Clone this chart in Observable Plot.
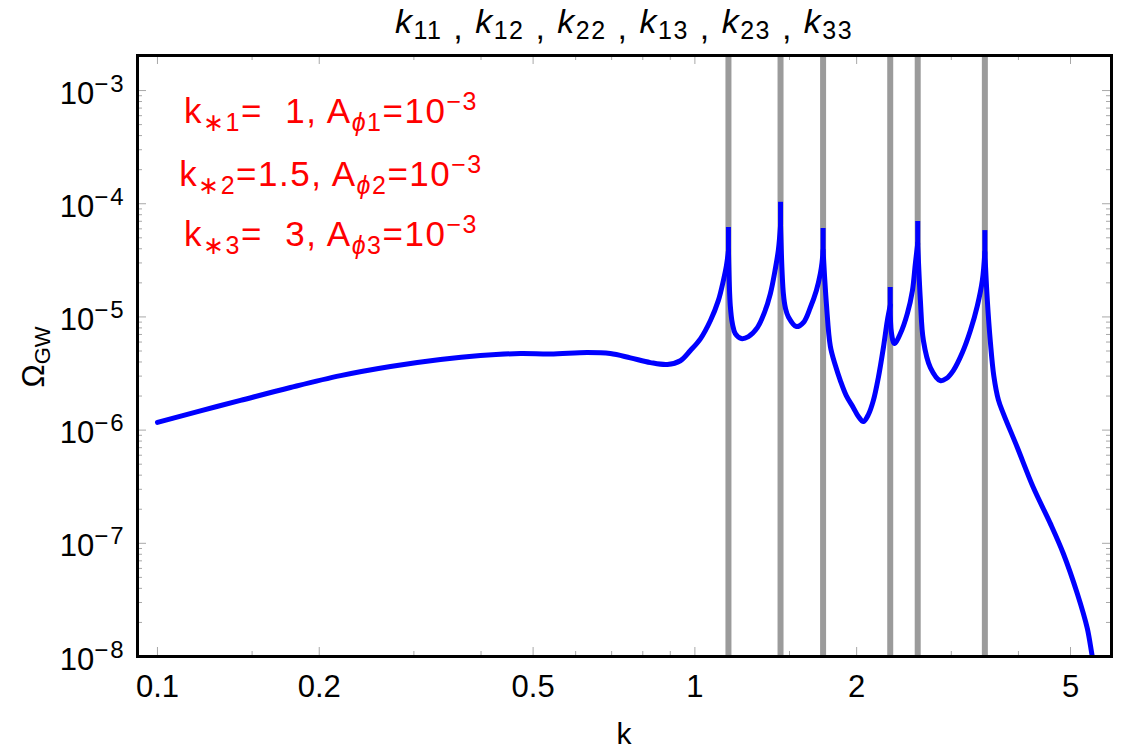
<!DOCTYPE html>
<html><head><meta charset="utf-8">
<script src="https://cdn.jsdelivr.net/npm/d3@7"></script>
<script src="https://cdn.jsdelivr.net/npm/@observablehq/plot@0.6"></script>
<style>
body{margin:0;background:#fff;}
#chart{width:1125px;height:755px;}
text{font-family:"Liberation Sans",Arial,sans-serif;}
</style>
</head><body><div id="chart"></div>
<script>
// ---- data ----
// smooth curve samples (values at resonances are the cusp base values)
const kValues = [0.1,0.1202,0.1427,0.1768,0.2191,0.2714,0.3362,0.399,0.4735,0.5385,0.631,0.696,0.7586,0.8266,0.889,0.9397,0.981,1.024,1.069,1.106,1.130,1.145,
 1.1547,1.164,1.175,1.189,1.220,1.258,1.307,1.347,1.382,1.412,1.430,
 1.4434,1.461,1.475,1.493,1.545,1.592,1.640,1.683,1.712,1.724,
 1.7321,1.757,1.787,1.826,1.865,1.913,1.972,2.015,2.058,2.103,2.148,2.195,2.243,2.281,
 2.3094,2.321,2.351,2.412,2.485,2.540,2.572,
 2.5981,2.628,2.662,2.743,2.862,2.937,3.026,3.146,3.256,3.355,3.427,
 3.4641,3.501,3.547,3.600,3.671,3.750,3.981,4.264,4.585,4.848,5.147,5.373,5.489,5.56];
const omegaValues = [1.17e-6,1.48e-6,1.83e-6,2.38e-6,3.03e-6,3.65e-6,4.21e-6,4.56e-6,4.75e-6,4.70e-6,4.85e-6,4.75e-6,4.35e-6,3.95e-6,3.80e-6,4.1e-6,5.05e-6,6.4e-6,9.29e-6,1.40e-5,2.10e-5,2.85e-5,
 3.86e-5,1.25e-5,8.6e-6,7.13e-6,6.44e-6,6.71e-6,8.05e-6,1.09e-5,1.61e-5,2.68e-5,3.9e-5,
 6.41e-5,1.61e-5,1.18e-5,1.0e-5,8.22e-6,8.93e-6,1.21e-5,1.71e-5,2.42e-5,3.0e-5,
 3.86e-5,1.30e-5,5.48e-6,3.72e-6,2.74e-6,2.02e-6,1.58e-6,1.32e-6,1.19e-6,1.37e-6,1.82e-6,2.92e-6,5.37e-6,9.29e-6,
 1.26e-5,7.3e-6,5.82e-6,7.13e-6,1.07e-5,1.71e-5,2.96e-5,
 4.45e-5,1.40e-5,6.19e-6,3.57e-6,2.74e-6,2.86e-6,3.36e-6,4.85e-6,7.59e-6,1.26e-5,2.10e-5,
 3.71e-5,1.40e-5,6.0e-6,3.0e-6,1.85e-6,1.40e-6,7.02e-7,3.11e-7,1.50e-7,8.13e-8,3.60e-8,1.77e-8,1.0e-8,7.5e-9];
const resonanceK = [1.1547, 1.4434, 1.7321, 2.3094, 2.5981, 3.4641];
const spikeBase = [3.86e-5, 6.41e-5, 3.86e-5, 1.26e-5, 4.45e-5, 3.71e-5];
const spikeTop = [6.17e-5, 1.03e-4, 6.04e-5, 1.82e-5, 6.97e-5, 5.79e-5];
const resonanceLabels = ["11","12","22","13","23","33"];
const xTickLabels = [0.1, 0.2, 0.5, 1, 2, 5];
const xMinorTicks = [0.15, 0.3, 0.4, 0.6, 0.7, 0.8, 0.9, 1.5, 3, 4];
const yMajorTicks = [1e-8, 1e-7, 1e-6, 1e-5, 1e-4, 1e-3];
const yMinorMultipliers = [2,3,4,5,6,7,8,9];
const starIndex = ["1","2","3"];
const kStarText = ["  1","1.5","  3"];
const ampExponent = ["\u22123","\u22123","\u22123"];

// ---- layout ----
const W = 1125, H = 755;
const mTop = 55, mRight = 14, mBottom = 99, mLeft = 137;
const innerW = W - mLeft - mRight, innerH = H - mTop - mBottom;
const xDomain = [0.0918, 5.96], yDomain = [1e-8, 2.04e-3];

// split curve into smooth pieces between resonances
const data = [];
let seg = 0;
kValues.forEach((k, i) => {
  data.push({k, omega: omegaValues[i], seg});
  if (resonanceK.includes(k)) { seg++; data.push({k, omega: omegaValues[i], seg}); }
});
const spikes = resonanceK.map((k, i) => ({k, lo: spikeBase[i], hi: spikeTop[i]}));
const yMinorTicks = [];
yMajorTicks.forEach(d => yMinorMultipliers.forEach(m => { if (m*d <= yDomain[1]) yMinorTicks.push(m*d); }));

const tickColor = "#a8a8a8";
const plot = Plot.plot({
  width: W, height: H,
  marginTop: mTop, marginRight: mRight, marginBottom: mBottom, marginLeft: mLeft,
  style: {fontFamily: "Liberation Sans, Arial, sans-serif", background: "white", color: "black"},
  x: {type: "log", domain: xDomain},
  y: {type: "log", domain: yDomain},
  marks: [
    Plot.ruleX(resonanceK, {stroke: "#9b9b9b", strokeWidth: 6}),
    Plot.tickX(xTickLabels, {stroke: tickColor, insetTop: innerH - 9}),
    Plot.tickX(xTickLabels, {stroke: tickColor, insetBottom: innerH - 9}),
    Plot.tickX(xMinorTicks, {stroke: tickColor, insetTop: innerH - 5}),
    Plot.tickX(xMinorTicks, {stroke: tickColor, insetBottom: innerH - 5}),
    Plot.tickY(yMajorTicks, {stroke: tickColor, insetRight: innerW - 9}),
    Plot.tickY(yMajorTicks, {stroke: tickColor, insetLeft: innerW - 9}),
    Plot.tickY(yMinorTicks, {stroke: tickColor, insetRight: innerW - 5}),
    Plot.tickY(yMinorTicks, {stroke: tickColor, insetLeft: innerW - 5}),
    Plot.line(data, {x: "k", y: "omega", z: "seg", curve: "catmull-rom", stroke: "#0000ff", strokeWidth: 5, strokeLinejoin: "round", clip: true}),
    Plot.ruleX(spikes, {x: "k", y1: "lo", y2: "hi", stroke: "#0000ff", strokeWidth: 5}),
    Plot.frame({stroke: "black", strokeWidth: 3}),
    Plot.axisX({ticks: xTickLabels, tickSize: 0, tickPadding: 18, fontSize: 31, tickFormat: d => String(d), label: null}),
    Plot.axisY({ticks: yMajorTicks, tickSize: 0, tickPadding: 12, fontSize: 31, tickFormat: d => String(Math.round(Math.log10(d))), label: null})
  ]
});
document.getElementById("chart").appendChild(plot);

const svg = d3.select(plot);
// y tick labels as 10^n
svg.selectAll('g[aria-label="y-axis tick label"] text').each(function() {
  const t = d3.select(this);
  const e = Math.abs(parseInt(t.text().replace("\u2212", "-"), 10));
  t.text(null).attr("y", "0.42em");
  t.append("tspan").text("10");
  t.append("tspan").attr("font-size", 24).attr("dy", -12).style("letter-spacing", "2px").text("\u2212" + e);
});

// title
const title = svg.append("text").attr("x", 624).attr("y", 33)
  .attr("text-anchor", "middle").attr("font-size", 34)
  .style("letter-spacing", "1.5px").style("white-space", "pre").attr("fill", "black");
resonanceLabels.forEach((lab, i) => {
  title.append("tspan").attr("font-style", "italic").attr("dy", i === 0 ? 0 : -6).text("k");
  title.append("tspan").attr("font-size", 25).attr("dy", 6).text(lab);
  if (i < resonanceLabels.length - 1) title.append("tspan").attr("dy", 0).text(" , ");
});

// annotation
const baselines = [123, 186, 246];
starIndex.forEach((idx, i) => {
  const t = svg.append("text").attr("x", 331).attr("y", baselines[i])
    .attr("text-anchor", "middle").attr("font-size", 35).attr("fill", "#ff0000")
    .style("letter-spacing", "1.5px").style("white-space", "pre");
  t.append("tspan").text("k");
  t.append("tspan").attr("font-size", 25).attr("dy", 8).text("\u2217" + idx);
  t.append("tspan").attr("dy", -8).text("=" + kStarText[i] + ", A");
  t.append("tspan").attr("font-size", 25).attr("dy", 8).attr("font-style", "italic").text("\u03D5");
  t.append("tspan").attr("font-size", 25).text(idx);
  t.append("tspan").attr("dy", -8).text("=10");
  t.append("tspan").attr("font-size", 25).attr("dy", -13).text(ampExponent[i]);
});

// axis labels
svg.append("text").attr("x", 624).attr("y", 744).attr("text-anchor", "middle")
  .attr("font-size", 30).attr("fill", "black").text("k");
const yl = svg.append("text").attr("transform", "translate(44,357) rotate(-90)")
  .attr("text-anchor", "middle").attr("font-size", 31).attr("fill", "black");
yl.append("tspan").text("\u03A9");
yl.append("tspan").attr("font-size", 22).attr("dy", 6).text("GW");
</script>
</body></html>
